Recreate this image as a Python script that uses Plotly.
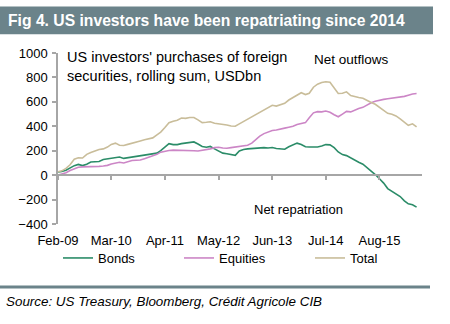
import pandas as pd
import plotly.graph_objects as go

# Rolling 12m sums of US purchases of foreign securities, USD bn (monthly, Feb-09 onwards)
months = pd.date_range("2009-02-01", periods=88, freq="MS")

bonds = [27, 30, 40, 60, 78, 88, 78, 90, 108, 110, 112, 128, 132, 136, 145, 148,
         137, 142, 152, 155, 160, 165, 168, 172, 180, 200, 230, 258, 250, 250, 258, 262,
         268, 272, 255, 235, 228, 235, 215, 200, 180, 175, 168, 162, 198, 210, 215, 218,
         218, 222, 225, 222, 226, 218, 215, 212, 232, 245, 262, 250, 232, 231, 231, 231,
         238, 250, 248, 225, 190, 168, 160, 140, 118, 105, 90, 62, 35, 5, -30, -65,
         -110, -132, -148, -175, -210, -235, -242, -262]

equities = [0, 8, 20, 38, 55, 65, 68, 68, 68, 70, 72, 75, 80, 92, 98, 105,
            100, 110, 120, 122, 124, 135, 145, 155, 170, 188, 198, 202, 205, 205, 205, 205,
            204, 200, 198, 203, 210, 215, 225, 228, 222, 220, 225, 230, 232, 236, 245, 262,
            290, 320, 340, 355, 365, 370, 380, 385, 392, 400, 415, 425, 430, 470, 510, 520,
            518, 525, 515, 495, 478, 500, 522, 518, 535, 545, 555, 575, 592, 605, 615, 620,
            625, 630, 632, 638, 645, 655, 665, 668]

total = [27, 35, 55, 85, 130, 142, 140, 170, 185, 198, 210, 215, 230, 252, 262, 245,
         243, 252, 260, 268, 280, 290, 295, 305, 330, 352, 390, 430, 442, 450, 468, 465,
         472, 472, 452, 430, 433, 437, 425, 422, 418, 410, 402, 400, 420, 440, 455, 475,
         495, 515, 535, 555, 572, 565, 578, 588, 615, 635, 655, 675, 660, 670, 720, 745,
         758, 765, 760, 710, 668, 670, 682, 652, 642, 636, 630, 610, 595, 580, 555, 530,
         506, 498, 485, 460, 430, 408, 420, 395]

tick_dates = ["2009-02-01", "2010-03-01", "2011-04-01", "2012-05-01",
              "2013-06-01", "2014-07-01", "2015-08-01"]
tick_labels = ["Feb-09", "Mar-10", "Apr-11", "May-12", "Jun-13", "Jul-14", "Aug-15"]
y_ticks = [-400, -200, 0, 200, 400, 600, 800, 1000]

W, H = 450, 324
L, R, T, B = 58, 422, 52.7, 224      # plot box in pixels
FONT = "Liberation Sans, Arial, sans-serif"
BAR = "#6b838a"
AXIS = "#a6a6a6"


def px(x):
    return (x - L) / (R - L)


def py(y):
    return (B - y) / (B - T)


fig = go.Figure()
series = [("Bonds", bonds, "#2b8c68", "legend"),
          ("Equities", equities, "#cc86c6", "legend2"),
          ("Total", total, "#c9bd9a", "legend3")]
for name, vals, col, lg in series:
    fig.add_trace(go.Scatter(x=months, y=vals, name=name, mode="lines",
                             line=dict(color=col, width=1.6), legend=lg))

# helper trace so the zero-crossing axis is drawn
fig.add_trace(go.Scatter(x=[months[0]], y=[0], xaxis="x2", mode="markers",
                         marker=dict(opacity=0), showlegend=False, hoverinfo="skip"))

x_end = pd.Timestamp("2016-06-10")
zero_pos = 400 / 1400

fig.update_layout(
    width=W, height=H,
    margin=dict(l=L, r=W - R, t=T, b=H - B, autoexpand=False),
    paper_bgcolor="white", plot_bgcolor="white",
    font=dict(family=FONT, size=13, color="black"),
    xaxis=dict(range=[months[0], x_end], tickvals=tick_dates, ticktext=tick_labels,
               showline=False, showgrid=False, zeroline=False, ticks="",
               tickfont=dict(size=13), ticklabelstandoff=7),
    xaxis2=dict(overlaying="x", matches="x", anchor="free", position=zero_pos,
                tickvals=tick_dates, showticklabels=False, showline=True,
                linecolor=AXIS, linewidth=1.5, ticks="outside", ticklen=4,
                tickcolor=AXIS, tickwidth=1.5, showgrid=False, zeroline=False),
    yaxis=dict(range=[-400, 1000], tickvals=y_ticks, showline=True, linecolor=AXIS,
               linewidth=1.5, ticks="outside", ticklen=4, tickcolor=AXIS,
               tickwidth=1.5, showgrid=False, zeroline=False,
               tickfont=dict(size=13), ticklabelstandoff=2),
    legend=dict(orientation="h", xref="container", yref="container",
                x=58 / W, y=1 - 258 / H, xanchor="left", yanchor="middle",
                font=dict(size=13), bgcolor="rgba(0,0,0,0)"),
    legend2=dict(orientation="h", xref="container", yref="container",
                 x=179 / W, y=1 - 258 / H, xanchor="left", yanchor="middle",
                 font=dict(size=13), bgcolor="rgba(0,0,0,0)"),
    legend3=dict(orientation="h", xref="container", yref="container",
                 x=310 / W, y=1 - 258 / H, xanchor="left", yanchor="middle",
                 font=dict(size=13), bgcolor="rgba(0,0,0,0)"),
    shapes=[
        dict(type="rect", xref="paper", yref="paper", x0=px(0), x1=px(433),
             y0=py(34), y1=py(6), fillcolor=BAR, line=dict(width=0), layer="below"),
        dict(type="rect", xref="paper", yref="paper", x0=px(0), x1=px(430),
             y0=py(288.5), y1=py(285.5), fillcolor=BAR, line=dict(width=0)),
    ],
    annotations=[
        dict(text="<b>Fig 4. US investors have been repatriating since 2014</b>",
             xref="paper", yref="paper", x=px(6), y=py(20), xanchor="left",
             yanchor="middle", showarrow=False, font=dict(size=15.7, color="white")),
        dict(text="US investors' purchases of foreign<br>securities, rolling sum, USDbn",
             xref="paper", yref="paper", x=px(65), y=py(66.5), xanchor="left",
             yanchor="middle", align="left", showarrow=False, font=dict(size=14.5)),
        dict(text="Net outflows", xref="paper", yref="paper", x=px(312), y=py(59),
             xanchor="left", yanchor="middle", showarrow=False, font=dict(size=13.5)),
        dict(text="Net repatriation", xref="paper", yref="paper", x=px(252), y=py(209),
             xanchor="left", yanchor="middle", showarrow=False, font=dict(size=13)),
        dict(text="<i>Source: US Treasury, Bloomberg, Crédit Agricole CIB</i>",
             xref="paper", yref="paper", x=px(4), y=py(302), xanchor="left",
             yanchor="middle", showarrow=False, font=dict(size=13.4)),
    ],
)

fig.write_html("out.html")
